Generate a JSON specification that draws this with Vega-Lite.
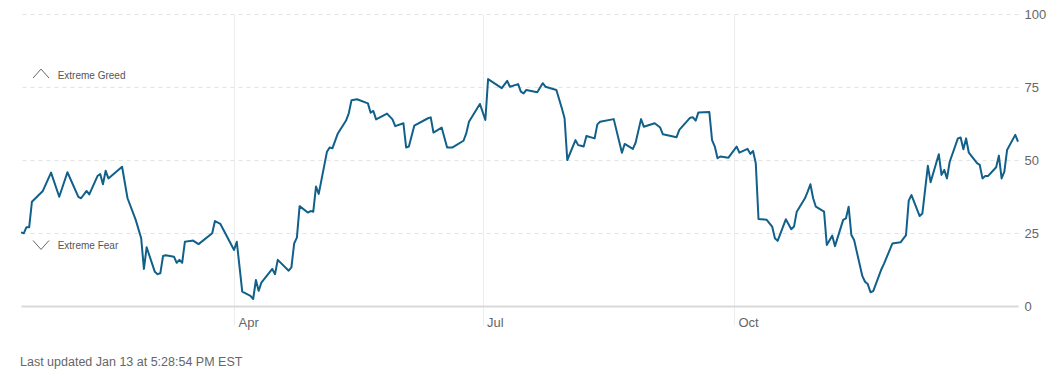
{
  "$schema": "https://vega.github.io/schema/vega-lite/v6.json",
  "width": 997,
  "height": 292,
  "autosize": {"type": "none"},
  "padding": {"left": 21, "top": 14, "right": 38, "bottom": 73},
  "background": "#ffffff",
  "config": {"view": {"stroke": null}, "font": "Liberation Sans"},
  "title": {"text": "Last updated Jan 13 at 5:28:54 PM EST", "orient": "bottom", "anchor": "start", "fontSize": 12.5, "fontWeight": "normal", "color": "#666666", "font": "Liberation Sans", "offset": 27},
  "datasets": {
    "fg": [
      {"d":"2025-01-13","v":25.2},{"d":"2025-01-14","v":24.9},{"d":"2025-01-15","v":27},{"d":"2025-01-16","v":27},{"d":"2025-01-17","v":35.7},
      {"d":"2025-01-21","v":39.4},{"d":"2025-01-24","v":45.7},{"d":"2025-01-27","v":37.4},{"d":"2025-01-30","v":45.8},{"d":"2025-02-03","v":37.4},
      {"d":"2025-02-04","v":36.9},{"d":"2025-02-06","v":39.4},{"d":"2025-02-07","v":38.2},{"d":"2025-02-10","v":44.5},{"d":"2025-02-11","v":45.2},
      {"d":"2025-02-12","v":41.7},{"d":"2025-02-13","v":46.3},{"d":"2025-02-14","v":43.7},{"d":"2025-02-19","v":47.7},{"d":"2025-02-21","v":36.9},
      {"d":"2025-02-24","v":29.5},{"d":"2025-02-26","v":23.2},{"d":"2025-02-27","v":12.7},{"d":"2025-02-28","v":20.1},{"d":"2025-03-03","v":11.7},
      {"d":"2025-03-04","v":10.9},{"d":"2025-03-05","v":11.2},{"d":"2025-03-06","v":17.1},{"d":"2025-03-07","v":17.4},{"d":"2025-03-10","v":16.9},
      {"d":"2025-03-11","v":14.8},{"d":"2025-03-12","v":15.8},{"d":"2025-03-13","v":14.8},{"d":"2025-03-14","v":22},{"d":"2025-03-16","v":22.3},
      {"d":"2025-03-17","v":22.4},{"d":"2025-03-19","v":21.2},{"d":"2025-03-24","v":24.9},{"d":"2025-03-25","v":29.1},{"d":"2025-03-27","v":28.1},
      {"d":"2025-04-01","v":19.2},{"d":"2025-04-02","v":22},{"d":"2025-04-04","v":4.9},{"d":"2025-04-07","v":3.5},{"d":"2025-04-08","v":2.4},
      {"d":"2025-04-09","v":8.9},{"d":"2025-04-10","v":5.2},{"d":"2025-04-11","v":8},{"d":"2025-04-15","v":12.7},{"d":"2025-04-16","v":10.9},
      {"d":"2025-04-17","v":15.8},{"d":"2025-04-21","v":12.1},{"d":"2025-04-22","v":13.2},{"d":"2025-04-23","v":21.4},{"d":"2025-04-24","v":23.4},
      {"d":"2025-04-25","v":34.2},{"d":"2025-04-28","v":32},{"d":"2025-04-29","v":32.5},{"d":"2025-04-30","v":32.3},{"d":"2025-05-01","v":40.9},
      {"d":"2025-05-02","v":38.4},{"d":"2025-05-05","v":52.8},{"d":"2025-05-06","v":54.3},{"d":"2025-05-07","v":54},{"d":"2025-05-09","v":59.1},
      {"d":"2025-05-12","v":63.5},{"d":"2025-05-13","v":66},{"d":"2025-05-14","v":70.5},{"d":"2025-05-16","v":70.8},{"d":"2025-05-20","v":69.4},
      {"d":"2025-05-21","v":66.2},{"d":"2025-05-22","v":66.8},{"d":"2025-05-23","v":63.9},{"d":"2025-05-27","v":65.9},{"d":"2025-05-29","v":63.9},
      {"d":"2025-05-30","v":61.6},{"d":"2025-06-02","v":62.6},{"d":"2025-06-03","v":54.3},{"d":"2025-06-04","v":54.6},{"d":"2025-06-06","v":61.8},
      {"d":"2025-06-11","v":64.3},{"d":"2025-06-12","v":64.6},{"d":"2025-06-13","v":59.4},{"d":"2025-06-16","v":61.1},{"d":"2025-06-18","v":54.3},
      {"d":"2025-06-20","v":54.3},{"d":"2025-06-24","v":56.6},{"d":"2025-06-25","v":59.1},{"d":"2025-06-26","v":63.1},{"d":"2025-06-30","v":69.2},
      {"d":"2025-07-02","v":63.7},{"d":"2025-07-03","v":77.7},{"d":"2025-07-08","v":74.6},{"d":"2025-07-10","v":77.1},{"d":"2025-07-11","v":75.1},
      {"d":"2025-07-14","v":76},{"d":"2025-07-15","v":73.4},{"d":"2025-07-16","v":72.8},{"d":"2025-07-17","v":74},{"d":"2025-07-21","v":73.2},
      {"d":"2025-07-23","v":76.3},{"d":"2025-07-24","v":75.1},{"d":"2025-07-28","v":74},{"d":"2025-07-30","v":67.7},{"d":"2025-07-31","v":64.3},
      {"d":"2025-08-01","v":50},{"d":"2025-08-04","v":56.8},{"d":"2025-08-05","v":55.1},{"d":"2025-08-06","v":54.9},{"d":"2025-08-07","v":54.6},
      {"d":"2025-08-08","v":58.2},{"d":"2025-08-11","v":57.4},{"d":"2025-08-12","v":62.2},{"d":"2025-08-13","v":63.1},{"d":"2025-08-18","v":64},
      {"d":"2025-08-21","v":52.5},{"d":"2025-08-22","v":55.5},{"d":"2025-08-25","v":53.8},{"d":"2025-08-26","v":55.9},{"d":"2025-08-28","v":64},
      {"d":"2025-08-29","v":61.4},{"d":"2025-09-02","v":62.6},{"d":"2025-09-04","v":61.1},{"d":"2025-09-05","v":58.8},{"d":"2025-09-10","v":57.8},
      {"d":"2025-09-11","v":60.3},{"d":"2025-09-15","v":64.5},{"d":"2025-09-16","v":64.6},{"d":"2025-09-17","v":63.5},{"d":"2025-09-18","v":66.3},
      {"d":"2025-09-22","v":66.4},{"d":"2025-09-23","v":56.8},{"d":"2025-09-24","v":54.6},{"d":"2025-09-25","v":50.6},{"d":"2025-09-26","v":51.2},
      {"d":"2025-09-29","v":50.8},{"d":"2025-10-02","v":54.6},{"d":"2025-10-03","v":52.5},{"d":"2025-10-06","v":53.8},{"d":"2025-10-07","v":52.1},
      {"d":"2025-10-08","v":53.1},{"d":"2025-10-09","v":48.9},{"d":"2025-10-10","v":29.8},{"d":"2025-10-13","v":29.5},{"d":"2025-10-15","v":27.2},
      {"d":"2025-10-16","v":23.2},{"d":"2025-10-17","v":22.3},{"d":"2025-10-20","v":29.7},{"d":"2025-10-22","v":26.3},{"d":"2025-10-23","v":27.2},
      {"d":"2025-10-24","v":32.3},{"d":"2025-10-27","v":36.9},{"d":"2025-10-28","v":39.2},{"d":"2025-10-29","v":41.7},{"d":"2025-10-30","v":36.9},
      {"d":"2025-10-31","v":34},{"d":"2025-11-03","v":32.3},{"d":"2025-11-04","v":20.9},{"d":"2025-11-06","v":24.1},{"d":"2025-11-07","v":20.5},
      {"d":"2025-11-10","v":29.5},{"d":"2025-11-11","v":30},{"d":"2025-11-12","v":34},{"d":"2025-11-13","v":24.3},{"d":"2025-11-14","v":22.6},
      {"d":"2025-11-17","v":10.3},{"d":"2025-11-18","v":8.3},{"d":"2025-11-19","v":7.5},{"d":"2025-11-20","v":4.7},{"d":"2025-11-21","v":5.1},
      {"d":"2025-11-24","v":12.6},{"d":"2025-11-25","v":14.6},{"d":"2025-11-28","v":21.4},{"d":"2025-12-01","v":21.8},{"d":"2025-12-03","v":24.3},
      {"d":"2025-12-04","v":36.1},{"d":"2025-12-05","v":38},{"d":"2025-12-08","v":30.8},{"d":"2025-12-09","v":31.7},{"d":"2025-12-11","v":48},
      {"d":"2025-12-12","v":42.4},{"d":"2025-12-15","v":52},{"d":"2025-12-16","v":44.9},{"d":"2025-12-17","v":46.6},{"d":"2025-12-18","v":43.7},
      {"d":"2025-12-19","v":49.4},{"d":"2025-12-22","v":57.4},{"d":"2025-12-23","v":57.7},{"d":"2025-12-24","v":53.7},{"d":"2025-12-25","v":57.4},
      {"d":"2025-12-26","v":52.5},{"d":"2025-12-29","v":48.9},{"d":"2025-12-30","v":48.3},{"d":"2025-12-31","v":43.7},{"d":"2026-01-01","v":44.5},
      {"d":"2026-01-02","v":44.5},{"d":"2026-01-05","v":47.5},{"d":"2026-01-06","v":51.5},{"d":"2026-01-07","v":43.7},{"d":"2026-01-08","v":46},
      {"d":"2026-01-09","v":53.4},{"d":"2026-01-12","v":58.6},{"d":"2026-01-13","v":56.3}
    ],
    "notes": [
      {"d":"2025-01-26T10:00:00Z","v":78.9,"label":"Extreme Greed"},
      {"d":"2025-01-26T10:00:00Z","v":20.4,"label":"Extreme Fear"}
    ],
    "marks": [
      {"d":"2025-01-20T08:00:00Z","v":79.6,"dir":"up"},
      {"d":"2025-01-20T08:00:00Z","v":20.9,"dir":"down"}
    ]
  },
  "layer": [
    {
      "data": {"name": "fg"},
      "mark": {"type": "line", "color": "#11608a", "strokeWidth": 2, "strokeJoin": "round"},
      "encoding": {
        "x": {
          "field": "d", "type": "temporal",
          "scale": {"type": "utc", "domain": ["2025-01-13T00:00:00Z", "2026-01-13T00:00:00Z"]},
          "axis": {
            "title": null,
            "values": [
              {"year": 2025, "month": 4, "date": 1, "utc": true},
              {"year": 2025, "month": 7, "date": 1, "utc": true},
              {"year": 2025, "month": 10, "date": 1, "utc": true}
            ],
            "labelExpr": "utcFormat(datum.value, '%b')",
            "grid": true, "gridColor": "#ececec", "gridWidth": 1,
            "ticks": true, "tickSize": 19, "tickColor": "#ececec", "tickWidth": 1,
            "domain": true, "domainColor": "#d9d9d9", "domainWidth": 2,
            "labelAlign": "left", "labelOffset": 4, "labelPadding": -9, "labelBaseline": "top",
            "labelFontSize": 13, "labelColor": "#666666", "labelFont": "Liberation Sans"
          }
        },
        "y": {
          "field": "v", "type": "quantitative",
          "scale": {"domain": [0, 100], "nice": false, "zero": true},
          "axis": {
            "title": null, "orient": "right", "values": [0, 25, 50, 75, 100],
            "grid": true, "gridColor": "#e3e3e3", "gridDash": [4, 4], "gridWidth": 1,
            "ticks": false, "domain": false, "labelPadding": 6,
            "labelFontSize": 13, "labelColor": "#666666", "labelFont": "Liberation Sans"
          }
        }
      }
    },
    {
      "data": {"name": "notes"},
      "mark": {"type": "text", "align": "left", "baseline": "middle", "fontSize": 10, "color": "#555555", "font": "Liberation Sans"},
      "encoding": {
        "x": {"field": "d", "type": "temporal"},
        "y": {"field": "v", "type": "quantitative"},
        "text": {"field": "label"}
      }
    },
    {
      "data": {"name": "marks"},
      "mark": {"type": "point", "filled": false, "size": 256, "strokeWidth": 1, "color": "#666666", "opacity": 1},
      "encoding": {
        "x": {"field": "d", "type": "temporal"},
        "y": {"field": "v", "type": "quantitative"},
        "shape": {
          "field": "dir", "type": "nominal",
          "scale": {"domain": ["up", "down"], "range": ["M-1,0.56L0,-0.56L1,0.56", "M-1,-0.56L0,0.56L1,-0.56"]},
          "legend": null
        }
      }
    }
  ]
}
